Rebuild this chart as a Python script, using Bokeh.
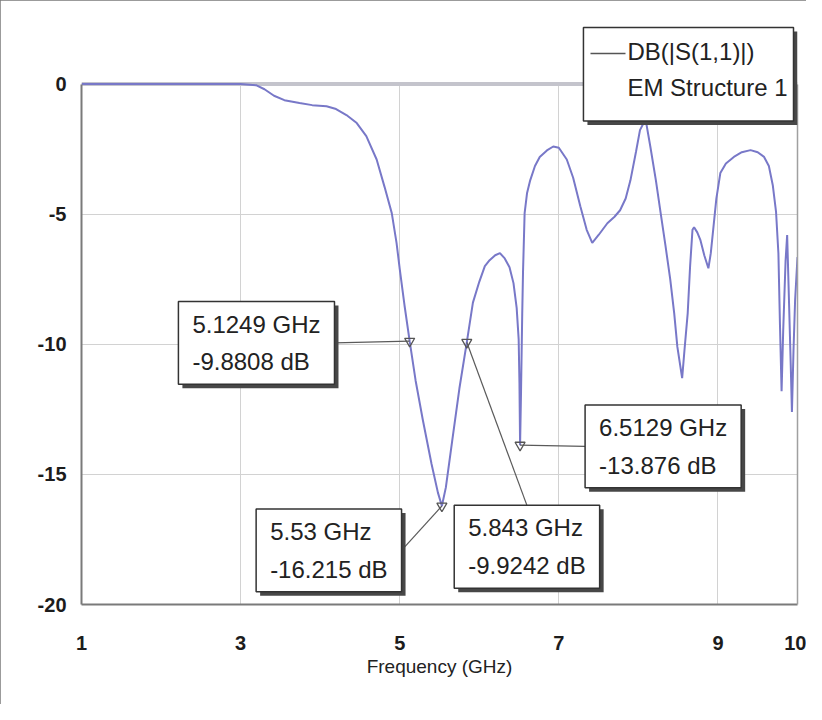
from bokeh.plotting import figure
from bokeh.models import (Label, FixedTicker, Range1d, Arrow, LinearAxis, Span,
                          PrintfTickFormatter)
from bokeh.embed import file_html
from bokeh.resources import INLINE

# ---- data ----
freq_ghz = [1.0, 1.5, 2.0, 2.5, 3.0, 3.2, 3.3, 3.42, 3.55, 3.74, 3.9, 4.08, 4.2, 4.33,
            4.46, 4.58, 4.71, 4.81, 4.9, 4.96, 5.0, 5.06, 5.1249, 5.2, 5.29, 5.4, 5.48,
            5.53, 5.58, 5.66, 5.75, 5.843, 5.92, 6.0, 6.07, 6.13, 6.2, 6.26, 6.32, 6.38,
            6.43, 6.47, 6.495, 6.505, 6.5129, 6.525, 6.54, 6.55, 6.57, 6.6, 6.64, 6.7,
            6.76, 6.85, 6.93, 7.0, 7.1, 7.18, 7.27, 7.35, 7.42, 7.5, 7.61, 7.7, 7.77,
            7.84, 7.9, 7.97, 8.02, 8.09, 8.15, 8.22, 8.28, 8.34, 8.4, 8.45, 8.49, 8.55,
            8.58, 8.62, 8.65, 8.68, 8.7, 8.74, 8.78, 8.83, 8.88, 8.91, 8.94, 8.98, 9.03,
            9.1, 9.2, 9.3, 9.41, 9.5, 9.58, 9.64, 9.69, 9.73, 9.76, 9.78, 9.80, 9.82,
            9.85, 9.87, 9.89, 9.915, 9.93, 9.95, 9.97, 10.0]
s11_db = [0.0, 0.0, 0.0, 0.0, 0.0, -0.05, -0.2, -0.45, -0.62, -0.73, -0.81, -0.85, -0.96, -1.19,
          -1.5, -2.0, -2.9, -3.96, -4.96, -6.1, -7.1, -8.5, -9.8808, -11.4, -12.9, -14.6, -15.7,
          -16.215, -15.5, -13.7, -11.7, -9.9242, -8.4, -7.6, -7.0, -6.77, -6.58, -6.5, -6.7, -7.04,
          -7.65, -8.6, -9.8, -11.5, -13.876, -11.8, -8.8, -7.2, -4.96, -4.2, -3.7, -3.15,
          -2.8, -2.55, -2.4, -2.45, -2.9, -3.6, -4.7, -5.6, -6.1, -5.8, -5.35, -5.1, -4.85,
          -4.4, -3.7, -2.6, -1.77, -1.35, -2.4, -3.7, -4.96, -6.2, -7.5, -8.8, -10.1, -11.3,
          -10.2, -8.8, -7.0, -5.6, -5.5, -5.7, -6.0, -6.6, -7.08, -6.5, -5.6, -4.4, -3.42,
          -3.05, -2.8, -2.62, -2.54, -2.62, -2.8, -3.15, -3.9, -4.9, -6.5, -9.3, -11.8, -9.5,
          -6.8, -5.8, -8.0, -10.8, -12.6, -10.2, -8.3, -6.65]
marker_freq = [5.1249, 5.53, 5.843, 6.5129]
marker_db = [-9.8808, -16.215, -9.9242, -13.876]
x_ticks = [1, 3, 5, 7, 9, 10]
y_ticks = [-20, -15, -10, -5, 0]
series_name = "DB(|S(1,1)|)"
series_source = "EM Structure 1"

FONT = "Liberation Sans"
DB_MIN, DB_MAX = -20, 0
SHADOW = "#474747"

# frame extends a little above 0 dB so the legend box (drawn above the plot) is not clipped
p = figure(width=806, height=704, output_backend="svg", toolbar_location=None,
           x_range=Range1d(1, 10), y_range=Range1d(DB_MIN, 2.25),
           min_border_left=81, min_border_right=9, min_border_top=25, min_border_bottom=100)
p.styles = {"outline": "3px solid #7a7a7a", "outline-offset": "-3px"}
p.background_fill_color = "white"
p.border_fill_color = "white"
p.outline_line_color = None

for ax in (p.xaxis, p.yaxis):
    ax.axis_line_color = "#7a7a7a"
    ax.axis_line_width = 2
    ax.major_tick_line_color = None
    ax.minor_tick_line_color = None
    ax.major_tick_out = 0
    ax.major_tick_in = 0
    ax.major_label_text_font = FONT
    ax.major_label_text_font_size = "20px"
    ax.major_label_text_font_style = "bold"
    ax.major_label_text_color = "#1c1c1c"
    ax.formatter = PrintfTickFormatter(format="%d")

p.yaxis.bounds = (DB_MIN, DB_MAX)
p.xaxis.ticker = FixedTicker(ticks=x_ticks)
p.yaxis.ticker = FixedTicker(ticks=y_ticks)
p.xaxis.major_label_standoff = 31
p.yaxis.major_label_standoff = 15
p.xaxis.axis_label = "Frequency (GHz)"
p.xaxis.axis_label_text_font = FONT
p.xaxis.axis_label_text_font_size = "19px"
p.xaxis.axis_label_text_font_style = "normal"
p.xaxis.axis_label_text_color = "#222222"
p.xaxis.axis_label_standoff = 3

p.xgrid.grid_line_color = "#d2d2d2"
p.ygrid.grid_line_color = "#d2d2d2"
p.xgrid.cross_bounds = (DB_MIN, DB_MAX)

# right border of the plot area (only down from 0 dB)
right_ax = LinearAxis(bounds=(DB_MIN, DB_MAX), ticker=FixedTicker(ticks=[]),
                      axis_line_color="#a0a0a0", axis_line_width=1.5,
                      major_tick_line_color=None, minor_tick_line_color=None)
p.add_layout(right_ax, "right")
# top border of the plot area at 0 dB (beneath the curve)
p.add_layout(Span(location=DB_MAX, dimension="width", line_color="#c4c4cc",
                  line_width=4, level="underlay"))

p.line(freq_ghz, s11_db, line_color="#7878c8", line_width=2)

# leader lines: end points are layout positions of the annotation boxes
leader_x = [4.18, 5.023, 6.599, 7.33]
leader_y = [-9.95, -17.92, -16.19, -13.92]
anchors = ["center_right", "center_right", "top_center", "center_left"]
p.segment(x0=marker_freq, y0=marker_db, x1=leader_x, y1=leader_y,
          line_color="#5a5a5a", line_width=1.2)
p.scatter(marker_freq, marker_db, marker="inverted_triangle", size=10,
          fill_color=None, line_color="#555555", line_width=1.3)

pad = dict(left=14, right=14, top=9, bottom=9)
for i in range(len(marker_freq)):
    txt = f"{marker_freq[i]} GHz\n{marker_db[i]} dB"
    common = dict(x=leader_x[i], y=leader_y[i], anchor=anchors[i], text=txt,
                  text_font=FONT, text_font_size="24px", text_line_height=1.4,
                  text_align="left", padding=pad)
    # drop shadow (its text is hidden under the box)
    p.add_layout(Label(**common, text_color=SHADOW, background_fill_color=SHADOW,
                       x_offset=4, y_offset=-4))
    p.add_layout(Label(**common, text_color="#222222", background_fill_color="white",
                       border_line_color="#333333", border_line_width=1.5))

# legend box (top right, canvas units)
leg = dict(x=793, y=27, x_units="canvas", y_units="canvas", anchor="top_right",
           text=f"{series_name}\n{series_source}",
           text_font=FONT, text_font_size="24px", text_line_height=1.35,
           text_align="left", padding=dict(left=44, right=6, top=10, bottom=20))
p.add_layout(Label(**leg, text_color=SHADOW, background_fill_color=SHADOW,
                   x_offset=4, y_offset=-4))
p.add_layout(Label(**leg, text_color="#222222", background_fill_color="white",
                   border_line_color="#333333", border_line_width=1.5))
p.add_layout(Arrow(x_start=590, y_start=53, x_end=625, y_end=53,
                   start_units="canvas", end_units="canvas", end=None,
                   line_color="#555555", line_width=1.5))

open("out.html", "w").write(file_html(p, INLINE))
